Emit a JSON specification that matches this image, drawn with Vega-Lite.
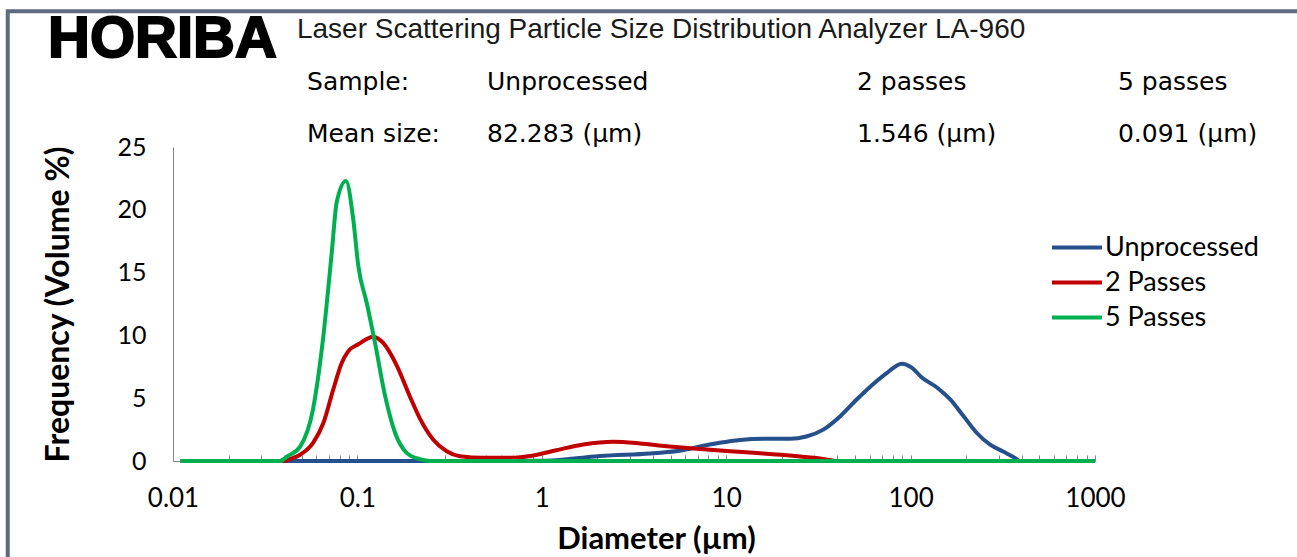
{
  "$schema": "https://vega.github.io/schema/vega-lite/v6.json",
  "width": 922,
  "height": 314,
  "autosize": {"type": "none"},
  "padding": {"left": 173, "top": 147, "right": 202, "bottom": 96},
  "background": "white",
  "config": {"view": {"stroke": null}},
  "datasets": {
    "curves": [
      {"d": 0.011, "f": 0, "s": "Unprocessed"},
      {"d": 0.3, "f": 0, "s": "Unprocessed"},
      {"d": 1.0, "f": 0.02, "s": "Unprocessed"},
      {"d": 1.5, "f": 0.2, "s": "Unprocessed"},
      {"d": 2.07, "f": 0.4, "s": "Unprocessed"},
      {"d": 3.86, "f": 0.6, "s": "Unprocessed"},
      {"d": 5.8, "f": 0.85, "s": "Unprocessed"},
      {"d": 7.2, "f": 1.15, "s": "Unprocessed"},
      {"d": 9.2, "f": 1.45, "s": "Unprocessed"},
      {"d": 11.9, "f": 1.68, "s": "Unprocessed"},
      {"d": 15.9, "f": 1.77, "s": "Unprocessed"},
      {"d": 22.2, "f": 1.77, "s": "Unprocessed"},
      {"d": 27.2, "f": 1.95, "s": "Unprocessed"},
      {"d": 33.6, "f": 2.5, "s": "Unprocessed"},
      {"d": 41.4, "f": 3.55, "s": "Unprocessed"},
      {"d": 51, "f": 4.9, "s": "Unprocessed"},
      {"d": 60.2, "f": 5.9, "s": "Unprocessed"},
      {"d": 74.2, "f": 7.0, "s": "Unprocessed"},
      {"d": 89.5, "f": 7.75, "s": "Unprocessed"},
      {"d": 101, "f": 7.45, "s": "Unprocessed"},
      {"d": 115, "f": 6.65, "s": "Unprocessed"},
      {"d": 139, "f": 5.85, "s": "Unprocessed"},
      {"d": 164, "f": 4.9, "s": "Unprocessed"},
      {"d": 193, "f": 3.6, "s": "Unprocessed"},
      {"d": 228, "f": 2.25, "s": "Unprocessed"},
      {"d": 270, "f": 1.3, "s": "Unprocessed"},
      {"d": 318, "f": 0.75, "s": "Unprocessed"},
      {"d": 368, "f": 0.25, "s": "Unprocessed"},
      {"d": 392, "f": 0, "s": "Unprocessed"},
      {"d": 1000, "f": 0, "s": "Unprocessed"},
      {"d": 0.011, "f": 0, "s": "2 Passes"},
      {"d": 0.04, "f": 0, "s": "2 Passes"},
      {"d": 0.043, "f": 0.15, "s": "2 Passes"},
      {"d": 0.0489, "f": 0.5, "s": "2 Passes"},
      {"d": 0.0575, "f": 1.45, "s": "2 Passes"},
      {"d": 0.0653, "f": 3.0, "s": "2 Passes"},
      {"d": 0.074, "f": 5.7, "s": "2 Passes"},
      {"d": 0.0822, "f": 7.8, "s": "2 Passes"},
      {"d": 0.0893, "f": 8.75, "s": "2 Passes"},
      {"d": 0.1012, "f": 9.3, "s": "2 Passes"},
      {"d": 0.1219, "f": 9.9, "s": "2 Passes"},
      {"d": 0.138, "f": 9.4, "s": "2 Passes"},
      {"d": 0.1635, "f": 7.6, "s": "2 Passes"},
      {"d": 0.1931, "f": 5.1, "s": "2 Passes"},
      {"d": 0.218, "f": 3.4, "s": "2 Passes"},
      {"d": 0.258, "f": 1.7, "s": "2 Passes"},
      {"d": 0.305, "f": 0.78, "s": "2 Passes"},
      {"d": 0.36, "f": 0.38, "s": "2 Passes"},
      {"d": 0.48, "f": 0.25, "s": "2 Passes"},
      {"d": 0.67, "f": 0.25, "s": "2 Passes"},
      {"d": 0.9, "f": 0.44, "s": "2 Passes"},
      {"d": 1.2, "f": 0.86, "s": "2 Passes"},
      {"d": 1.68, "f": 1.31, "s": "2 Passes"},
      {"d": 2.44, "f": 1.53, "s": "2 Passes"},
      {"d": 3.41, "f": 1.4, "s": "2 Passes"},
      {"d": 4.76, "f": 1.18, "s": "2 Passes"},
      {"d": 6.64, "f": 1.0, "s": "2 Passes"},
      {"d": 10.5, "f": 0.78, "s": "2 Passes"},
      {"d": 15.9, "f": 0.6, "s": "2 Passes"},
      {"d": 22.2, "f": 0.44, "s": "2 Passes"},
      {"d": 29.7, "f": 0.25, "s": "2 Passes"},
      {"d": 36.5, "f": 0.08, "s": "2 Passes"},
      {"d": 40, "f": 0, "s": "2 Passes"},
      {"d": 1000, "f": 0, "s": "2 Passes"},
      {"d": 0.011, "f": 0, "s": "5 Passes"},
      {"d": 0.038, "f": 0, "s": "5 Passes"},
      {"d": 0.042, "f": 0.4, "s": "5 Passes"},
      {"d": 0.0489, "f": 1.15, "s": "5 Passes"},
      {"d": 0.0574, "f": 4.1, "s": "5 Passes"},
      {"d": 0.0653, "f": 9.9, "s": "5 Passes"},
      {"d": 0.0726, "f": 16.6, "s": "5 Passes"},
      {"d": 0.0772, "f": 20.6, "s": "5 Passes"},
      {"d": 0.0867, "f": 22.3, "s": "5 Passes"},
      {"d": 0.095, "f": 19.2, "s": "5 Passes"},
      {"d": 0.1012, "f": 15.5, "s": "5 Passes"},
      {"d": 0.1123, "f": 12.6, "s": "5 Passes"},
      {"d": 0.1246, "f": 9.4, "s": "5 Passes"},
      {"d": 0.1412, "f": 5.2, "s": "5 Passes"},
      {"d": 0.16, "f": 2.25, "s": "5 Passes"},
      {"d": 0.185, "f": 0.65, "s": "5 Passes"},
      {"d": 0.218, "f": 0.15, "s": "5 Passes"},
      {"d": 0.25, "f": 0, "s": "5 Passes"},
      {"d": 1000, "f": 0, "s": "5 Passes"}
    ],
    "header": [
      {"kind": "logo", "t": "HORIBA", "d": 0.0021, "f": 33.5},
      {"kind": "title", "t": "Laser Scattering Particle Size Distribution Analyzer LA-960", "d": 0.047, "f": 34.3},
      {"kind": "table", "t": "Sample:", "d": 0.0533, "f": 30.2},
      {"kind": "table", "t": "Unprocessed", "d": 0.5045, "f": 30.2},
      {"kind": "table", "t": "2 passes", "d": 51.2, "f": 30.2},
      {"kind": "table", "t": "5 passes", "d": 1332, "f": 30.2},
      {"kind": "table", "t": "Mean size:", "d": 0.0533, "f": 26.0},
      {"kind": "table", "t": "82.283 (µm)", "d": 0.5045, "f": 26.0},
      {"kind": "table", "t": "1.546 (µm)", "d": 51.2, "f": 26.0},
      {"kind": "table", "t": "0.091 (µm)", "d": 1332, "f": 26.0}
    ],
    "frame": [
      {"d0": 0.00127, "d1": 20000, "f0": 35.8, "f1": -10}
    ]
  },
  "layer": [
    {
      "data": {"name": "frame"},
      "mark": {"type": "rect", "fill": null, "stroke": "#5e6a7e", "strokeWidth": 4},
      "encoding": {
        "x": {"field": "d0", "type": "quantitative", "scale": {"type": "log", "domain": [0.01, 1000], "nice": false}},
        "x2": {"field": "d1"},
        "y": {"field": "f0", "type": "quantitative", "scale": {"domain": [0, 25], "nice": false}},
        "y2": {"field": "f1"}
      }
    },
    {
      "data": {"name": "curves"},
      "transform": [{"filter": "datum.s === 'Unprocessed'"}],
      "mark": {"type": "line", "interpolate": "monotone", "strokeWidth": 4},
      "encoding": {
        "x": {"field": "d", "type": "quantitative"},
        "y": {"field": "f", "type": "quantitative"},
        "color": {"field": "s", "type": "nominal"}
      }
    },
    {
      "data": {"name": "curves"},
      "transform": [{"filter": "datum.s === '2 Passes'"}],
      "mark": {"type": "line", "interpolate": "monotone", "strokeWidth": 4},
      "encoding": {
        "x": {"field": "d", "type": "quantitative"},
        "y": {"field": "f", "type": "quantitative"},
        "color": {"field": "s", "type": "nominal"}
      }
    },
    {
      "data": {"name": "curves"},
      "transform": [{"filter": "datum.s === '5 Passes'"}],
      "mark": {"type": "line", "interpolate": "monotone", "strokeWidth": 4},
      "encoding": {
        "x": {
          "field": "d", "type": "quantitative",
          "scale": {"type": "log", "domain": [0.01, 1000], "nice": false},
          "axis": {
            "title": "Diameter (µm)",
            "values": [0.01,0.02,0.03,0.04,0.05,0.06,0.07,0.08,0.09,0.1,0.2,0.3,0.4,0.5,0.6,0.7,0.8,0.9,1,2,3,4,5,6,7,8,9,10,20,30,40,50,60,70,80,90,100,200,300,400,500,600,700,800,900,1000],
            "format": ".2~f",
            "labelExpr": "abs(log(datum.value)/LN10 - round(log(datum.value)/LN10)) < 0.001 ? datum.label : ''",
            "grid": false,
            "domainColor": "#868686",
            "tickColor": "#868686",
            "tickSize": -6,
            "labelPadding": 30,
            "labelFont": "Lato",
            "labelFontSize": 26,
            "labelColor": "#000000",
            "labelFlush": false,
            "labelOverlap": false,
            "titleFont": "Lato",
            "titleFontSize": 31,
            "titleFontWeight": "bold",
            "titleColor": "#000000",
            "titleX": 483,
            "titleY": 87,
            "titleBaseline": "alphabetic"
          }
        },
        "y": {
          "field": "f", "type": "quantitative",
          "scale": {"domain": [0, 25], "nice": false},
          "axis": {
            "title": "Frequency (Volume %)",
            "values": [0, 5, 10, 15, 20, 25],
            "grid": false,
            "ticks": false,
            "domainColor": "#868686",
            "labelPadding": 27,
            "labelFont": "Lato",
            "labelFontSize": 25,
            "labelColor": "#000000",
            "titleFont": "Lato",
            "titleFontSize": 32,
            "titleFontWeight": "bold",
            "titleColor": "#000000",
            "titleX": -115,
            "titleY": 157,
            "titleAngle": -90,
            "titleAlign": "center",
            "titleBaseline": "middle"
          }
        },
        "color": {
          "field": "s", "type": "nominal",
          "scale": {"domain": ["Unprocessed", "2 Passes", "5 Passes"], "range": ["#25508c", "#c00000", "#00b050"]},
          "legend": {
            "title": null,
            "orient": "none",
            "legendX": 877,
            "legendY": 83,
            "symbolType": "stroke",
            "symbolSize": 2500,
            "symbolStrokeWidth": 4,
            "clipHeight": 35,
            "labelFont": "Lato",
            "labelFontSize": 27,
            "labelColor": "#000000",
            "labelOffset": 1,
            "rowPadding": 0,
            "padding": 0
          }
        }
      }
    },
    {
      "data": {"name": "header"},
      "transform": [{"filter": "datum.kind === 'logo'"}],
      "mark": {"type": "text", "align": "left", "baseline": "middle", "font": "Liberation Sans", "fontWeight": "bold", "fontSize": 58, "color": "#000000", "stroke": "#000000", "strokeWidth": 2},
      "encoding": {
        "x": {"field": "d", "type": "quantitative"},
        "y": {"field": "f", "type": "quantitative"},
        "text": {"field": "t"}
      }
    },
    {
      "data": {"name": "header"},
      "transform": [{"filter": "datum.kind === 'title'"}],
      "mark": {"type": "text", "align": "left", "baseline": "middle", "font": "Liberation Sans", "fontSize": 28, "color": "#1a1a1a"},
      "encoding": {
        "x": {"field": "d", "type": "quantitative"},
        "y": {"field": "f", "type": "quantitative"},
        "text": {"field": "t"}
      }
    },
    {
      "data": {"name": "header"},
      "transform": [{"filter": "datum.kind === 'table'"}],
      "mark": {"type": "text", "align": "left", "baseline": "middle", "font": "DejaVu Sans", "fontSize": 25, "color": "#000000"},
      "encoding": {
        "x": {"field": "d", "type": "quantitative"},
        "y": {"field": "f", "type": "quantitative"},
        "text": {"field": "t"}
      }
    }
  ]
}
